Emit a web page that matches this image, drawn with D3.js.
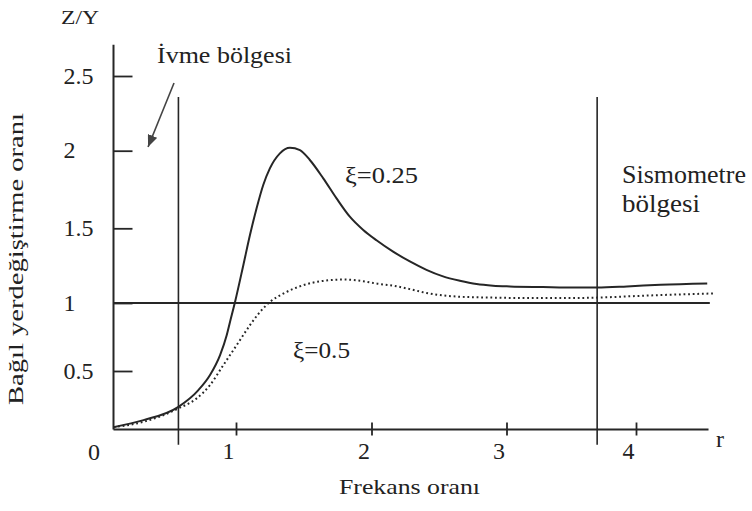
<!DOCTYPE html>
<html>
<head>
<meta charset="utf-8">
<script src="https://cdn.jsdelivr.net/npm/d3@7"></script>
<style>
  body { margin: 0; background: #fff; }
  svg { display: block; }
  svg text { fill: #222; }
</style>
</head>
<body>
<svg></svg>
<script>
// frequency ratio r and relative displacement ratio Z/Y
let r25 = [0, 0.245, 0.53, 0.693, 0.788, 0.87, 0.924, 0.951, 0.992, 1.054, 1.103, 1.152, 1.201, 1.25, 1.324, 1.398, 1.472, 1.545, 1.644, 1.742, 1.84, 1.939, 2.037, 2.16, 2.284, 2.407, 2.53, 2.654, 2.778, 2.9, 3.026, 3.28, 3.54, 3.7, 3.93, 4.19, 4.55];
let z25 = [0.02, 0.08, 0.194, 0.337, 0.466, 0.617, 0.763, 0.861, 1.007, 1.253, 1.455, 1.629, 1.779, 1.886, 1.983, 2.02, 2.004, 1.94, 1.822, 1.693, 1.575, 1.489, 1.42, 1.344, 1.278, 1.222, 1.178, 1.149, 1.127, 1.116, 1.111, 1.107, 1.104, 1.104, 1.111, 1.122, 1.131];

let r50 = [0, 0.245, 0.53, 0.679, 0.788, 0.897, 1.005, 1.103, 1.177, 1.25, 1.349, 1.496, 1.644, 1.791, 1.939, 2.037, 2.16, 2.284, 2.407, 2.53, 2.654, 2.9, 3.15, 3.41, 3.7, 3.93, 4.19, 4.61];
let z50 = [0.02, 0.066, 0.18, 0.266, 0.38, 0.544, 0.69, 0.837, 0.934, 1.007, 1.063, 1.119, 1.148, 1.157, 1.146, 1.13, 1.116, 1.093, 1.067, 1.051, 1.042, 1.036, 1.033, 1.033, 1.036, 1.044, 1.053, 1.064];

let xTicks = [1, 2, 3, 4];
let yTicks = [0.5, 1, 1.5, 2, 2.5];

// region boundaries (r) and their vertical extent (Z/Y)
let regionLines = [0.53, 3.7];
let regionSpan = [-0.13, 2.36];
let arrowFrom = [0.494, 2.453];
let arrowTo = [0.282, 2.025];

let rMax = 4.56;
let zTop = 2.71;

let width = 752;
let height = 511;
let serif = "'Liberation Serif', 'Times New Roman', serif";

let svg = d3.select('svg').
attr('width', width).
attr('height', height).
attr('font-family', serif);

// the scan is slightly uneven, so the scales follow the printed tick positions
let xScale = d3.scaleLinear().
domain([0, 1, 2, 3, 4]).
range([113.5, 236, 371.5, 506.5, 636]);

let yScale = d3.scaleLinear().
domain([0, 0.5, 1, 1.5, 2, 2.5]).
range([429.5, 371, 303, 228.3, 150.7, 76]);

let ink = '#262626';

svg.append('defs').append('marker').
attr('id', 'head').
attr('viewBox', '0 0 12 10').
attr('refX', 12).
attr('refY', 5).
attr('markerWidth', 12).
attr('markerHeight', 10).
attr('markerUnits', 'userSpaceOnUse').
attr('orient', 'auto').
append('path').
attr('d', 'M0,0 L12,5 L0,10 Z').
attr('fill', '#444');

// y axis: ticks point inward, labels left-aligned
let yAxis = d3.axisLeft(yScale).
tickValues(yTicks).
tickSizeInner(-19).
tickSizeOuter(0).
tickFormat(d3.format('~g'));

let gy = svg.append('g').
attr('transform', 'translate(' + xScale(0) + ',0)').
call(yAxis).
attr('font-family', serif).
attr('font-size', 24);
gy.select('.domain').remove();
gy.selectAll('line').attr('stroke', ink).attr('stroke-width', 1.8);
gy.selectAll('text').
attr('x', -50).
attr('dy', '0.3em').
attr('text-anchor', 'start').
attr('fill', '#222');

svg.append('line').
attr('x1', xScale(0)).attr('x2', xScale(0)).
attr('y1', yScale(0)).attr('y2', yScale(zTop)).
attr('stroke', ink).attr('stroke-width', 2);

// x axis: ticks cross the line
let xAxis = d3.axisBottom(xScale).
tickValues(xTicks).
tickSizeInner(6).
tickSizeOuter(0).
tickPadding(6).
tickFormat(d3.format('d'));

let gx = svg.append('g').
attr('transform', 'translate(0,' + yScale(0) + ')').
call(xAxis).
attr('font-family', serif).
attr('font-size', 24);
gx.select('.domain').remove();
gx.selectAll('line').attr('y1', -7).attr('stroke', ink).attr('stroke-width', 1.8);
gx.selectAll('text').
attr('dx', -8).
attr('fill', '#222');

svg.append('line').
attr('x1', xScale(0)).attr('x2', xScale(rMax)).
attr('y1', yScale(0)).attr('y2', yScale(0)).
attr('stroke', ink).attr('stroke-width', 2);

// reference line Z/Y = 1
svg.append('line').
attr('x1', xScale(0)).attr('x2', xScale(rMax + 0.01)).
attr('y1', yScale(1)).attr('y2', yScale(1)).
attr('stroke', ink).attr('stroke-width', 2);

svg.selectAll('.region').
data(regionLines).
enter().
append('line').
attr('class', 'region').
attr('x1', d => xScale(d)).attr('x2', d => xScale(d)).
attr('y1', yScale(regionSpan[0])).attr('y2', yScale(regionSpan[1])).
attr('stroke', ink).attr('stroke-width', 1.6);

let line = d3.line().
x(d => xScale(d[0])).
y(d => yScale(d[1])).
curve(d3.curveMonotoneX);

svg.append('path').
datum(d3.zip(r25, z25)).
attr('d', line).
attr('fill', 'none').
attr('stroke', ink).
attr('stroke-width', 2);

svg.append('path').
datum(d3.zip(r50, z50)).
attr('d', line).
attr('fill', 'none').
attr('stroke', ink).
attr('stroke-width', 2).
attr('stroke-dasharray', '1.8,2.8');

svg.append('line').
attr('x1', xScale(arrowFrom[0])).attr('y1', yScale(arrowFrom[1])).
attr('x2', xScale(arrowTo[0])).attr('y2', yScale(arrowTo[1])).
attr('stroke', '#444').
attr('stroke-width', 1.6).
attr('marker-end', 'url(#head)');

// labels
let label = (txt, x, y, size, len) => {
  let t = svg.append('text').
  attr('x', x).
  attr('y', y).
  attr('font-size', size).
  text(txt);
  if (len) {
    t.attr('textLength', len).attr('lengthAdjust', 'spacingAndGlyphs');
  }
  return t;
};

label('Z/Y', 61, 24, 19, 38);
label('İvme bölgesi', 157, 63, 23, 135);
label('ξ=0.25', 345, 183, 24, 73);
label('ξ=0.5', 293, 358, 24, 57);
label('Sismometre', 622, 183, 25, 124);
label('bölgesi', 622, 212, 25, 78);
label('Frekans oranı', 339, 494, 22, 141);
label('0', 88, 460, 24);
label('r', 716, 447, 24);

svg.append('text').
attr('transform', 'translate(23,405) rotate(-90)').
attr('font-size', 21).
attr('textLength', 292).
attr('lengthAdjust', 'spacingAndGlyphs').
text('Bağıl yerdeğiştirme oranı');
</script>
</body>
</html>
